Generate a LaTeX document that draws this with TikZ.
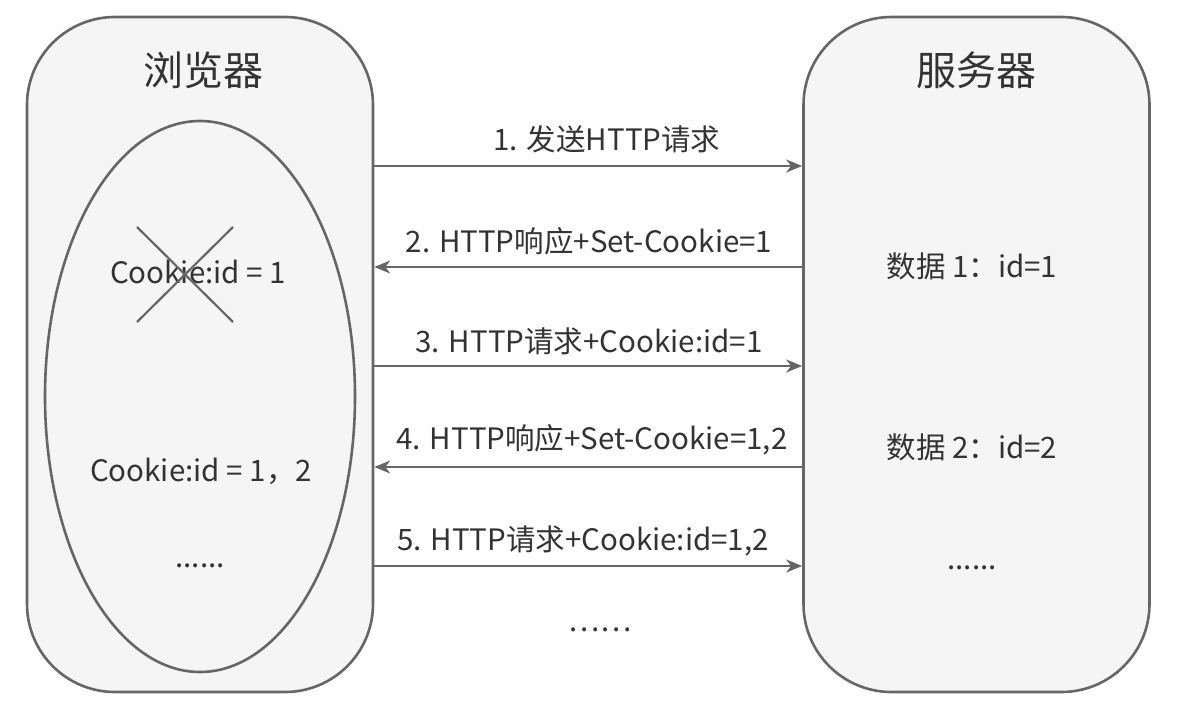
\documentclass[tikz,border=0pt]{standalone}
\usepackage{fontspec}
\setmainfont{Noto Sans CJK SC}
\usetikzlibrary{shapes.geometric,arrows.meta}
\definecolor{edge}{HTML}{666666}
\definecolor{boxfill}{HTML}{F5F5F5}
\definecolor{ink}{HTML}{333333}

\begin{document}
\begin{tikzpicture}[x=1pt,y=-1pt,
  side/.style={draw=edge, fill=boxfill, line width=2.6pt, rounded corners=88pt,
    minimum width=346pt, minimum height=675pt},
  jar/.style={ellipse, draw=edge, line width=2.6pt, minimum width=310pt, minimum height=551pt},
  txt/.style={text=ink, font=\fontsize{29.5}{32}\selectfont},
  head/.style={text=ink, font=\fontsize{40}{44}\selectfont},
  msg/.style={draw=edge, line width=2.2pt, -{Stealth[length=16pt,width=13pt,inset=5pt]}}]
\useasboundingbox (0,0) rectangle (1186,714);
\node [side] (browser) at (200,354.5) {};
\node [side] (server) at (976.5,354.5) {};
\node [jar] (store) at (200,396.5) {};
\node [head] (btitle) at (203,70) {浏览器};
\node [head] (stitle) at (976.5,70) {服务器};

\node [txt] (old) at (198,272) {Cookie:id = 1};
\draw [edge, line width=2.2pt] (137,227) -- (233,322);
\draw [edge, line width=2.2pt] (233,227) -- (137,322);
\node [txt] (new) at (201,471) {Cookie:id = 1，2};
\node [txt] (bmore) at (200,566) {......};

\node [txt] (d1) at (972,266) {数据 1：id=1};
\node [txt] (d2) at (972,447) {数据 2：id=2};
\node [txt] (smore) at (972,568) {......};

\node [txt] (m1) at (607,139) {1. 发送HTTP请求};
\node [txt] (m2) at (589,241) {2. HTTP响应+Set-Cookie=1};
\node [txt] (m3) at (589,341) {3. HTTP请求+Cookie:id=1};
\node [txt] (m4) at (592,440) {4. HTTP响应+Set-Cookie=1,2};
\node [txt] (m5) at (583,541) {5. HTTP请求+Cookie:id=1,2};
\node [txt] (more) at (600,630) {……};

\draw [msg] (browser.east |- 0,166) -- (server.west |- 0,166);
\draw [msg] (server.west |- 0,267) -- (browser.east |- 0,267);
\draw [msg] (browser.east |- 0,366) -- (server.west |- 0,366);
\draw [msg] (server.west |- 0,467) -- (browser.east |- 0,467);
\draw [msg] (browser.east |- 0,566) -- (server.west |- 0,566);
\end{tikzpicture}
\end{document}
